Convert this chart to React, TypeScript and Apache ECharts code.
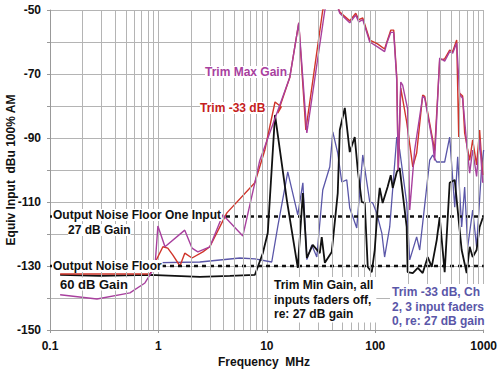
import React, { useEffect, useRef } from "react";
import * as echarts from "echarts";

// Frequency (MHz) and level (dBu) readings
const maxGainFreq = [0.124, 0.271, 0.546, 0.751, 0.929, 0.989, 1.15, 1.75, 2.04, 2.31, 2.98, 3.93, 6.01, 7.75, 8.61, 16.3, 19.7, 23.4, 34.3, 39.7, 47.1, 58.2, 66.1, 70.5, 76.7, 89, 105, 122, 128, 139, 148, 158, 163, 172, 179, 199, 208, 231, 274, 286, 339, 353, 393, 437, 486, 518, 564, 601, 640, 697, 743, 792, 861, 918, 980];
const maxGainVal = [-139, -140.3, -138.4, -135.3, -130.3, -117.5, -124, -118.8, -124.4, -125.6, -124, -114, -120.6, -104, -97, -71, -54, -88.4, -50, -44, -51, -54, -51.6, -53.7, -53, -60, -61.5, -63, -60.3, -57, -57, -72, -100, -72.5, -73.5, -81, -112.5, -93.75, -77, -77.5, -91.6, -97, -65, -66, -63, -63.5, -60.3, -76.5, -77.6, -91.6, -101, -93.75, -102, -90.6, -104];

const trim33Freq = [0.124, 0.836, 0.929, 1.10, 1.22, 1.36, 1.58, 1.75, 2.04, 2.57, 2.98, 4.28, 7.75, 9.59, 11.9, 13.6, 12.6, 16.3, 19.7, 22.9, 32.8, 39.7, 47.1, 58.2, 66.1, 70.5, 76.7, 89, 105, 122, 128, 139, 148, 158, 163, 172, 195, 222, 241, 274, 286, 339, 353, 393, 437, 486, 518, 564, 589, 601, 640, 668, 713, 743, 792, 861, 918, 980];
const trim33Val = [-132.5, -132.5, -129, -124, -124.4, -126.6, -130, -126, -127.5, -125.6, -124, -113.4, -104, -93.75, -78.75, -80.3, -82.2, -71, -54, -87.5, -50, -44, -50.6, -53.4, -51, -53, -52.5, -59.4, -60.6, -62.2, -60, -56.3, -56.3, -71, -100, -74.4, -85, -99, -94.7, -76.6, -77, -90.6, -94, -65.6, -65.3, -62.5, -63, -59.4, -89.7, -76, -76.9, -88.4, -93.75, -97, -90.6, -98.4, -87.5, -101.6];

const minGainFreq = [0.124, 0.289, 0.836, 2.41, 4.56, 7.75, 9.18, 10.2, 11.9, 15.3, 19.3, 21.5, 23.4, 26.5, 30.8, 32.1, 34.3, 39.7, 45.1, 47.1, 52.4, 58.2, 64.7, 69, 75.1, 80, 85.3, 92.9, 98.9, 105, 110, 117, 130, 139, 145, 158, 168, 195, 199, 222, 247, 274, 305, 332, 369, 393, 437, 486, 541, 576, 627, 697, 743, 792, 861, 918, 980];
const minGainVal = [-132.8, -133.1, -132.8, -133.4, -133.1, -132.8, -126, -119.7, -82.8, -109.4, -130.6, -107.2, -127.5, -123.4, -126, -121, -129, -125.6, -107.2, -87.5, -80.6, -94.4, -89.7, -100, -110, -110.3, -130.3, -131.9, -125, -112.5, -105.6, -110.3, -105.3, -101.6, -105.6, -100.6, -99.4, -117.8, -131.9, -132.2, -130.6, -132.2, -127.2, -130.3, -121.9, -114.7, -131.9, -104, -103.1, -112.5, -125, -132.2, -124, -127.2, -125, -117.8, -115];

const ch2Freq = [0.80, 2.41, 5.64, 7.75, 11.1, 12.6, 15.6, 19.3, 21.5, 23.4, 26, 28.9, 32.8, 38.1, 40.6, 45.1, 49.1, 54.6, 58.2, 67.5, 76.7, 89, 94.8, 103, 115, 122, 136, 158, 168, 195, 208, 241, 257, 274, 318, 339, 369, 437, 486, 541, 576, 627, 668, 713, 792, 861, 959, 1000];
const ch2Val = [-129, -128.75, -127.5, -127.8, -128.75, -117.8, -100.6, -114, -104, -128, -123.4, -127.2, -106.25, -99, -88.1, -94.7, -103.75, -103.1, -111.9, -118.1, -95.3, -110, -110.3, -113.4, -119.7, -127.2, -117.8, -89.7, -93.75, -110.3, -128.1, -120.9, -125, -116.6, -96.9, -95.3, -97.5, -97.5, -89.7, -111.6, -95.9, -117.8, -105.3, -124, -112.5, -124, -99, -93.75];

const noiseFloorLevels = [-114.5, -130];
const xRange = [0.1, 1000];
const yRange = [-150, -50];

const FONT = "Arial, 'Liberation Sans', sans-serif";
const PURPLE = "#a8409e";
const RED = "#d0342a";
const BLUE = "#5a56a8";
const BLACK = "#111111";

const zip = (xs: number[], ys: number[]) => xs.map((x, i) => [x, ys[i]]);

export default function App() {
  const ref = useRef<HTMLDivElement>(null);
  useEffect(() => {
    if (!ref.current) return;
    const chart = echarts.init(ref.current, undefined, { renderer: "svg" });
    const minorGrid: number[] = [];
    for (const d of [0.1, 1, 10, 100]) {
      for (let k = 2; k <= 9; k++) minorGrid.push(Number((d * k).toPrecision(3)));
    }
    const lineSeries = (name: string, data: number[][], color: string, width: number) => ({
      name,
      type: "line",
      data,
      symbol: "none",
      lineStyle: { color, width },
      itemStyle: { color },
      silent: true,
      clip: true,
    });
    chart.setOption({
      animation: false,
      grid: { left: 50, right: 16, top: 10, bottom: 41, containLabel: false },
      xAxis: {
        type: "log",
        logBase: 10,
        min: xRange[0],
        max: xRange[1],
        axisLine: { show: true, lineStyle: { color: "#999" } },
        axisTick: { show: true, length: 3, lineStyle: { color: "#999" } },
        axisLabel: {
          margin: 10,
          fontFamily: FONT,
          fontWeight: "bold",
          fontSize: 12,
          color: "#111",
          formatter: (v: number) => String(v),
        },
        splitLine: { show: true, lineStyle: { color: "#b4b4b4", width: 1 } },
      },
      yAxis: {
        type: "value",
        min: yRange[0],
        max: yRange[1],
        interval: 10,
        axisLine: { show: true, lineStyle: { color: "#999" } },
        axisTick: { show: true, length: 3, lineStyle: { color: "#999" } },
        axisLabel: {
          margin: 9,
          fontFamily: FONT,
          fontWeight: "bold",
          fontSize: 12,
          color: "#111",
          formatter: (v: number) => (Math.abs((v + 50) % 20) < 1e-6 ? String(v) : ""),
        },
        splitLine: { show: true, lineStyle: { color: "#b4b4b4", width: 1 } },
      },
      series: [
        {
          type: "line",
          data: [],
          silent: true,
          markLine: {
            silent: true,
            symbol: ["none", "none"],
            label: { show: false },
            lineStyle: { color: "#b4b4b4", width: 1, type: "solid" },
            data: minorGrid.map((v) => ({ xAxis: v })),
          },
        },
        lineSeries("Trim -33 dB, Ch 2", zip(ch2Freq, ch2Val), BLUE, 1.3),
        lineSeries("Trim Min Gain", zip(minGainFreq, minGainVal), BLACK, 1.8),
        lineSeries("Trim -33 dB", zip(trim33Freq, trim33Val), RED, 1.4),
        lineSeries("Trim Max Gain", zip(maxGainFreq, maxGainVal), PURPLE, 1.4),
        ...noiseFloorLevels.map((lv) => ({
          type: "line",
          data: [[xRange[0], lv], [xRange[1], lv]],
          symbol: "none",
          silent: true,
          lineStyle: { color: BLACK, width: 2.5, type: [4, 4] },
        })),
      ],
      graphic: [
        {
          type: "text", x: 11, y: 170, rotation: Math.PI / 2, z: 100,
          style: { text: "Equiv Input  dBu 100% AM", font: `bold 12px ${FONT}`, fill: "#111", textAlign: "center", textVerticalAlign: "middle" },
        },
        {
          type: "text", x: 264, y: 362, z: 100,
          style: { text: "Frequency  MHz", font: `bold 12px ${FONT}`, fill: "#111", textAlign: "center", textVerticalAlign: "middle" },
        },
        {
          type: "text", x: 205, y: 72, z: 100,
          style: { text: "Trim Max Gain", font: `bold 12px ${FONT}`, fill: PURPLE, textAlign: "left", textVerticalAlign: "middle", backgroundColor: "#fff" },
        },
        {
          type: "text", x: 200, y: 108, z: 100,
          style: { text: "Trim -33 dB", font: `bold 12px ${FONT}`, fill: "#c42020", textAlign: "left", textVerticalAlign: "middle", backgroundColor: "#fff" },
        },
        {
          type: "text", x: 52, y: 215, z: 100,
          style: { text: "Output Noise Floor One Input", font: `bold 12px ${FONT}`, fill: "#111", textAlign: "left", textVerticalAlign: "middle", backgroundColor: "#fff", padding: [0, 1] },
        },
        {
          type: "text", x: 68, y: 230, z: 100,
          style: { text: "27 dB Gain", font: `bold 12px ${FONT}`, fill: "#111", textAlign: "left", textVerticalAlign: "middle", backgroundColor: "#fff" },
        },
        {
          type: "text", x: 52, y: 266, z: 100,
          style: { text: "Output Noise Floor", font: `bold 12px ${FONT}`, fill: "#111", textAlign: "left", textVerticalAlign: "middle", backgroundColor: "#fff", padding: [0, 1] },
        },
        {
          type: "text", x: 60, y: 284, z: 100,
          style: { text: "60 dB Gain", font: `bold 13px ${FONT}`, fill: "#111", textAlign: "left", textVerticalAlign: "middle", backgroundColor: "#fff" },
        },
        {
          type: "text", x: 271, y: 277, z: 100,
          style: { text: "Trim Min Gain, all\ninputs faders off,\nre: 27 dB gain", font: `bold 12px ${FONT}`, lineHeight: 14.5, fill: "#111", textAlign: "left", textVerticalAlign: "top", backgroundColor: "#fff", padding: [1, 3] },
        },
        {
          type: "text", x: 390, y: 284, z: 100,
          style: { text: "Trim -33 dB, Ch\n2, 3 input faders\n0, re: 27 dB gain", font: `bold 12px ${FONT}`, lineHeight: 14.5, fill: BLUE, textAlign: "left", textVerticalAlign: "top", backgroundColor: "#fff", padding: [1, 2] },
        },
      ],
    });
    return () => chart.dispose();
  }, []);
  return <div ref={ref} style={{ position: "absolute", left: 0, top: 0, width: 500, height: 371, background: "#fff" }} />;
}
